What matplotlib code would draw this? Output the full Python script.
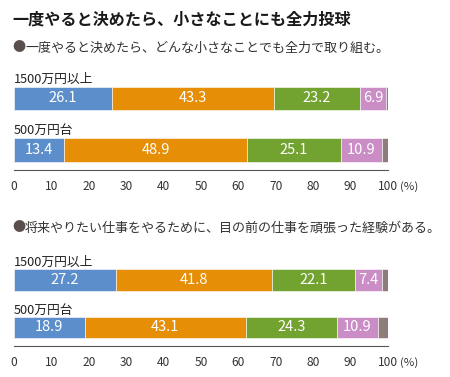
import matplotlib
matplotlib.use("Agg")
import matplotlib.pyplot as plt

plt.rcParams['font.family'] = ['Noto Sans CJK JP', 'DejaVu Sans']

title = "一度やると決めたら、小さなことにも全力投球"
questions = ["一度やると決めたら、どんな小さなことでも全力で取り組む。",
             "将来やりたい仕事をやるために、目の前の仕事を頑張った経験がある。"]
groups = ["1500万円以上", "500万円台"]

# values per question: rows = groups, columns = segments
q1 = [[26.1, 43.3, 23.2, 6.9],
      [13.4, 48.9, 25.1, 10.9]]
q2 = [[27.2, 41.8, 22.1, 7.4],
      [18.9, 43.1, 24.3, 10.9]]
colors = ["#5b8ecb", "#e58e06", "#72a22f", "#cb8dc5", "#8e7d78"]
ticks = list(range(0, 101, 10))

W, H = 450, 377
fig = plt.figure(figsize=(W / 100, H / 100), dpi=100)
fig.patch.set_facecolor("white")


def px(x, y):
    return x / W, 1 - y / H


fig.text(*px(12, 20), title, fontsize=11.6, fontweight="bold", color="#1a1a1a", va="center")


def panel(data, question, q_y, axis_y, spacing):
    fig.text(*px(12, q_y), "●", fontsize=9.5, color="#5a4f4c", va="center")
    fig.text(*px(25, q_y), question, fontsize=9.4, color="#333333", va="center")
    top_units = 0.62
    bot_units = 1.39
    h_px = (bot_units + top_units) * spacing
    left, bottom = px(14, axis_y)
    ax = fig.add_axes([left, bottom, 374 / W, h_px / H])
    for i, row in enumerate(data):
        vals = row + [round(100 - sum(row), 1)]
        start = 0
        for j, v in enumerate(vals):
            ax.barh(i, v, left=start, height=0.46, color=colors[j],
                    edgecolor="white", linewidth=0.4)
            if j < 4:
                ax.text(start + v / 2, i, f"{v}", ha="center", va="center",
                        color="white", fontsize=10.5)
            start += v
        ax.text(0, i - 0.37, groups[i], ha="left", va="center",
                fontsize=9.2, color="#222222")
    ax.set_xlim(0, 100)
    ax.set_ylim(bot_units, -top_units)
    ax.set_yticks([])
    ax.set_xticks(ticks)
    ax.tick_params(axis="x", length=0, pad=7, labelsize=8.6, labelcolor="#333333")
    for s in ["top", "left", "right"]:
        ax.spines[s].set_visible(False)
    ax.spines["bottom"].set_color("#555555")
    ax.spines["bottom"].set_linewidth(0.8)
    ax.set_facecolor("none")
    ax.text(103.2, -16.5 / h_px, "(%)", transform=ax.get_xaxis_transform(),
            fontsize=8.2, color="#333333", va="center", ha="left")
    return ax


ax1 = panel(q1, questions[0], 48, 170, 51.5)
ax2 = panel(q2, questions[1], 228, 346, 47.5)

fig.savefig("out.png", dpi=100)
